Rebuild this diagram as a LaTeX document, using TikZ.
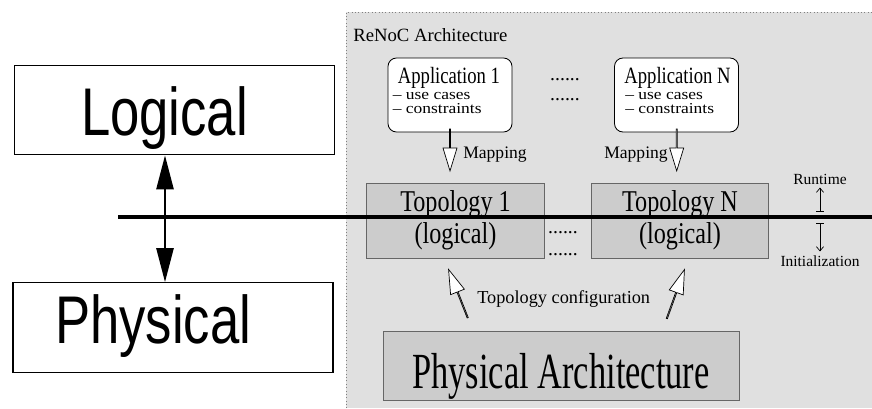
\documentclass[tikz,border=0pt]{standalone}
\usepackage{fontspec}
\setmainfont{Liberation Serif}
\newfontfamily\narrowserif[FakeStretch=0.8]{Liberation Serif}
\newfontfamily\archserif[FakeStretch=0.68]{Liberation Serif}
\newfontfamily\wideserif[FakeStretch=1.15]{Liberation Serif}
\newfontfamily\layersans[FakeStretch=0.78]{Liberation Sans}
\usetikzlibrary{arrows.meta,shapes.arrows,calc}

\definecolor{panelgray}{gray}{0.88}
\definecolor{boxgray}{gray}{0.8}
\definecolor{boxedge}{gray}{0.4}

\tikzset{
  layerbox/.style={draw, line width=0.9pt, fill=white, minimum width=80mm, minimum height=22.4mm,
    inner sep=0pt, font=\layersans\fontsize{48}{48}\selectfont},
  appbox/.style={draw, rounded corners=6pt, fill=white, line width=0.6pt,
    minimum width=31mm, minimum height=18.5mm},
  apptext/.style={anchor=base west, inner sep=0pt, font=\narrowserif\fontsize{16.6}{18}\selectfont},
  notetext/.style={anchor=base west, inner sep=0pt, font=\wideserif\fontsize{10.8}{11}\selectfont},
  topobox/.style={draw=boxedge, fill=boxgray, line width=0.6pt, minimum width=44.4mm,
    minimum height=18.75mm, align=center, inner sep=0pt,
    font=\narrowserif\fontsize{21.5}{22.8}\selectfont},
  archbox/.style={draw=boxedge, fill=boxgray, line width=0.6pt, minimum width=89mm,
    minimum height=17.25mm, inner sep=0pt, text height=32pt, text depth=0pt,
    font=\archserif\fontsize{36}{36}\selectfont},
  hollow/.style={single arrow, draw, fill=white, line width=0.5pt, inner sep=0pt,
    single arrow head extend=1mm, single arrow tip angle=34},
  dotrow/.style={anchor=base, inner sep=0pt, font=\fontsize{14}{14}\selectfont},
  caption/.style={inner sep=0pt, font=\fontsize{#1}{#1}\selectfont},
  phasearrow/.style={line width=0.5pt, {Bar[width=5pt]}-{Straight Barb[length=3pt,width=5pt]}},
  linkarrow/.style={line width=1.4pt, {Triangle[length=8.5mm,width=4.3mm]}-{Triangle[length=8.5mm,width=4.3mm]}}
}

\begin{document}
\begin{tikzpicture}[x=0.25mm, y=-0.25mm]
  \useasboundingbox (0,0) rectangle (872,408);

  % grey panel
  \fill[panelgray] (346,12) rectangle (872,408);
  \draw[gray, dotted] (346,408) -- (346,12) -- (872,12);
  \node[caption=13.3, anchor=base west] (title) at (353,41.5) {ReNoC Architecture};

  % applications
  \node[appbox] (app1) at (450,95) {};
  \node[appbox] (appN) at (676.5,95) {};
  \node[apptext] (app1name) at ($(app1.north west)+(10,26)$) {Application 1};
  \node[notetext] (app1use) at ($(app1.north west)+(5,42)$) {– use cases};
  \node[notetext] (app1con) at ($(app1.north west)+(5,56)$) {– constraints};
  \node[apptext] (appNname) at ($(appN.north west)+(10,26)$) {Application N};
  \node[notetext] (appNuse) at ($(appN.north west)+(11,42)$) {– use cases};
  \node[notetext] (appNcon) at ($(appN.north west)+(11,56)$) {– constraints};
  \node[dotrow] (appdots1) at (565,80) {......};
  \node[dotrow] (appdots2) at (565,100) {......};

  % mapping
  \node[hollow, rotate=-90, minimum height=10.5mm, minimum width=3.5mm] (map1) at (450,149) {};
  \node[hollow, rotate=-90, minimum height=10.5mm, minimum width=3.5mm] (mapN) at (676.7,149) {};
  \node[caption=12.5, anchor=base west] (map1label) at (463,158.3) {Mapping};
  \node[caption=12.5, anchor=base east] (mapNlabel) at (668,158.3) {Mapping};

  % logical topologies
  \node[topobox] (topo1) at (455.5,220.5) {Topology 1\\(logical)};
  \node[topobox] (topoN) at (680,220.5) {Topology N\\(logical)};
  \node[dotrow] (topodots1) at (563,233) {......};
  \node[dotrow] (topodots2) at (563,255) {......};

  % physical architecture and configuration
  \node[archbox] (arch) at (561,365.5) {Physical Architecture};
  \node[hollow, rotate=111.6, minimum height=13mm, minimum width=3.7mm] (cfg1) at (458.5,294.5) {};
  \node[hollow, rotate=70.2, minimum height=13mm, minimum width=3.7mm] (cfgN) at (675.3,295) {};
  \node[caption=13, anchor=base west] (cfglabel) at (477,303.3) {Topology configuration};

  % runtime / initialization
  \node[caption=11, anchor=base] (runtime) at (820,184.3) {Runtime};
  \node[caption=11, anchor=base] (init) at (820,266.7) {Initialization};
  \coordinate (switch up) at (820,212);
  \coordinate (switch down) at (820,223);
  \draw[phasearrow, shorten >=2pt] (switch up) -- (runtime.south);
  \draw[phasearrow, shorten >=3pt] (switch down) -- (init.north);

  % left side layers
  \node[layerbox, text height=36pt, text depth=0pt] (logical) at (174.5,110) {Logical\hspace*{5mm}};
  \node[layerbox, text height=36pt, text depth=13.5pt] (physical) at (173,327.5) {Physical\hspace*{10mm}};
  \coordinate (linkx) at (165,0);
  \draw[linkarrow] (linkx |- logical.south) -- (linkx |- physical.north);

  % dividing line
  \coordinate (cut west) at (118,217);
  \coordinate (cut east) at (872,217);
  \draw[line width=2.5pt] (cut west) -- (cut east);
\end{tikzpicture}
\end{document}
